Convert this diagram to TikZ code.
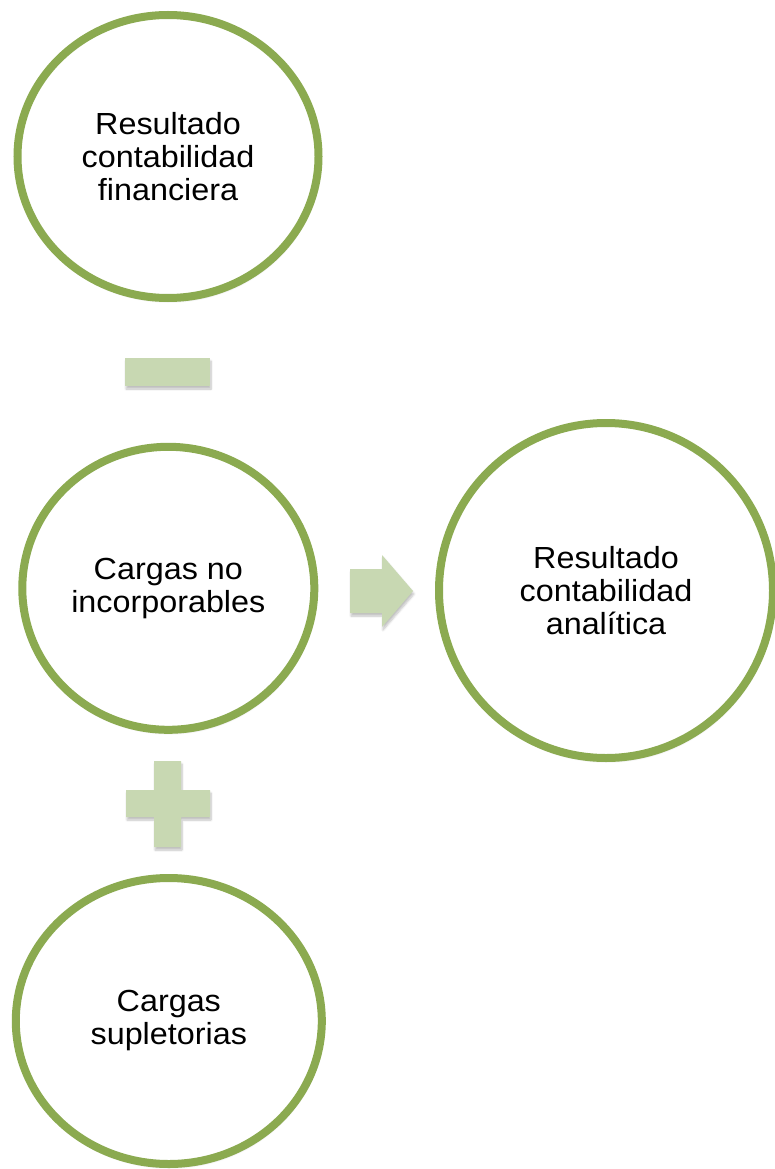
\documentclass[tikz,border=0pt]{standalone}
\usepackage{fontspec}
\setmainfont[FakeStretch=1.06]{Liberation Sans}
\usetikzlibrary{shapes.geometric, shadows.blur}

\definecolor{ringgreen}{HTML}{8BAA50}
\definecolor{signgreen}{HTML}{C8D8B2}

\begin{document}
\begin{tikzpicture}[x=1pt, y=-1pt,
  softshadow/.style={blur shadow={shadow xshift=1pt, shadow yshift=-3pt, shadow opacity=25, shadow blur steps=6}},
  bubble/.style={ellipse, draw=ringgreen, line width=8pt, fill=white, inner sep=0pt, align=center,
    font=\fontsize{30.5}{33}\selectfont, softshadow},
  sign/.style={fill=signgreen, softshadow}]
\useasboundingbox (0,0) rectangle (775,1169);
% the four results and charges
\node[bubble, minimum width=301pt, minimum height=283pt] (fin) at (168,156.5) {Resultado\\contabilidad\\financiera};
\node[bubble, minimum width=292pt, minimum height=283pt] (nocarg) at (168.3,588.3) {Cargas no\\incorporables};
\node[bubble, minimum width=334pt, minimum height=335pt] (ana) at (606,590.5) {Resultado\\contabilidad\\anal\'itica};
\node[bubble, minimum width=306pt, minimum height=286pt] (supl) at (168.8,1021) {Cargas\\supletorias};
% minus, plus and arrow
\node[sign, rectangle, inner sep=0pt, minimum width=85pt, minimum height=28pt] (minus) at (167.5,372) {};
\fill[sign] (154,761) -- (181,761) -- (181,790) -- (210,790) -- (210,817) -- (181,817)
  -- (181,847) -- (154,847) -- (154,817) -- (126,817) -- (126,790) -- (154,790) -- cycle;
\fill[sign] (350,569) -- (382,569) -- (382,555) -- (413,591) -- (382,627) -- (382,613) -- (350,613) -- cycle;
\end{tikzpicture}
\end{document}
